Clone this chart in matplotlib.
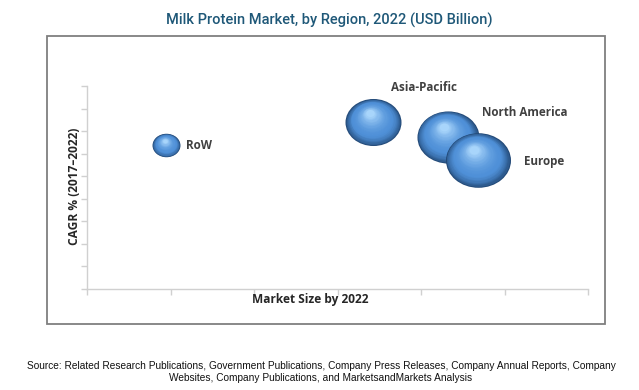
import numpy as np
import matplotlib
matplotlib.use('Agg')
import matplotlib.pyplot as plt
from matplotlib.path import Path
from matplotlib.markers import MarkerStyle
from matplotlib.transforms import ScaledTranslation, Affine2D
from matplotlib.patches import Rectangle
from matplotlib.colors import to_rgb

# ---- data ----
regions = ['RoW', 'Asia-Pacific', 'North America', 'Europe']
market_size = [0.95, 3.43, 4.32, 4.68]      # x position (axis 0..6)
cagr = [6.37, 7.39, 6.73, 5.71]             # y position (axis 0..9)
bubble = [0.81, 3.25, 3.99, 4.38]           # relative bubble area
label_off = [(20, 0), (18, 35), (34, 25), (46, -1)]  # label offset in pixels

title = 'Milk Protein Market, by Region, 2022 (USD Billion)'
xlabel = 'Market Size by 2022'
ylabel = 'CAGR % (2017\u20132022)'
source = ('Source: Related Research Publications, Government Publications, Company Press Releases, Company Annual Reports, Company\n'
          'Websites, Company Publications, and MarketsandMarkets Analysis')

fig = plt.figure(figsize=(6.39, 3.90), dpi=100)
fig.patch.set_facecolor('white')

# outer frame
fig.patches.append(Rectangle((47/639, 1-324/390), (605-47)/639, (324-36)/390,
                             transform=fig.transFigure, fill=False,
                             edgecolor='#7f7f7f', lw=1.3, zorder=0))

ax = fig.add_axes([87/639, 1-289/390, (588-87)/639, (289-86)/390])
ax.set_xlim(0, 6)
ax.set_ylim(0, 9)
ax.set_xticks(range(7))
ax.set_yticks(range(10))
ax.set_xticklabels([])
ax.set_yticklabels([])
for s in ['top', 'right']:
    ax.spines[s].set_visible(False)
for s in ['left', 'bottom']:
    ax.spines[s].set_color('#d0d0d0')
    ax.spines[s].set_linewidth(1.0)
ax.tick_params(colors='#d0d0d0', length=4, width=1.0, direction='out')
ax.patch.set_alpha(0)

# slightly wide ellipse marker like the original bubbles
circ = Path.unit_circle()
ell = Affine2D().scale(1.0, 0.84).transform_path(circ)
mk = MarkerStyle(ell)

dark = np.array(to_rgb('#234a78'))
mid = np.array(to_rgb('#4f90d8'))
light = np.array(to_rgb('#a8d5fb'))
n = 26
for x, y, b in zip(market_size, cagr, bubble):
    s = b * 500
    r = np.sqrt(s) / 2 / 72  # radius in inches
    for i in range(n):
        t = i / (n - 1)
        if t < 0.3:
            c = dark + (mid - dark) * (t / 0.3) ** 0.7
        else:
            c = mid + (light - mid) * ((t - 0.3) / 0.7) ** 1.8
        f = (1 - 0.85 * t)
        dx = -0.12 * r * t
        dy = 0.32 * r * t
        tr = ax.transData + ScaledTranslation(dx, dy, fig.dpi_scale_trans)
        ax.scatter([x], [y], s=s * f ** 2, marker=mk, color=c, lw=0,
                   transform=tr, clip_on=False, zorder=3)

for x, y, name, off in zip(market_size, cagr, regions, label_off):
    ax.annotate(name, (x, y), xytext=off, textcoords='offset pixels',
                ha='left', va='center', fontsize=8.4, fontweight='bold',
                color='#404040', family=['Open Sans', 'DejaVu Sans'], zorder=5)

ax.set_xlabel(xlabel, fontsize=8.6, fontweight='bold', color='#262626',
              family=['Open Sans', 'DejaVu Sans'], va='center')
ax.set_ylabel(ylabel, fontsize=8.6, fontweight='bold', color='#262626',
              family=['Open Sans', 'DejaVu Sans'], va='center')
ax.xaxis.set_label_coords((310-87)/501, (289-300)/203)
ax.yaxis.set_label_coords((75-87)/501, (289-186)/203)

fig.text(329/639, 1-20/390, title, ha='center', va='center', fontsize=10.5,
         color='#1f5878', family=['Roboto', 'DejaVu Sans'],
         fontweight='medium')
fig.text(321/639, 1-372/390, source, ha='center', va='center', fontsize=7.3,
         color='#111111', family=['Liberation Sans', 'DejaVu Sans'],
         linespacing=1.25)

fig.savefig('out.png', dpi=100)
